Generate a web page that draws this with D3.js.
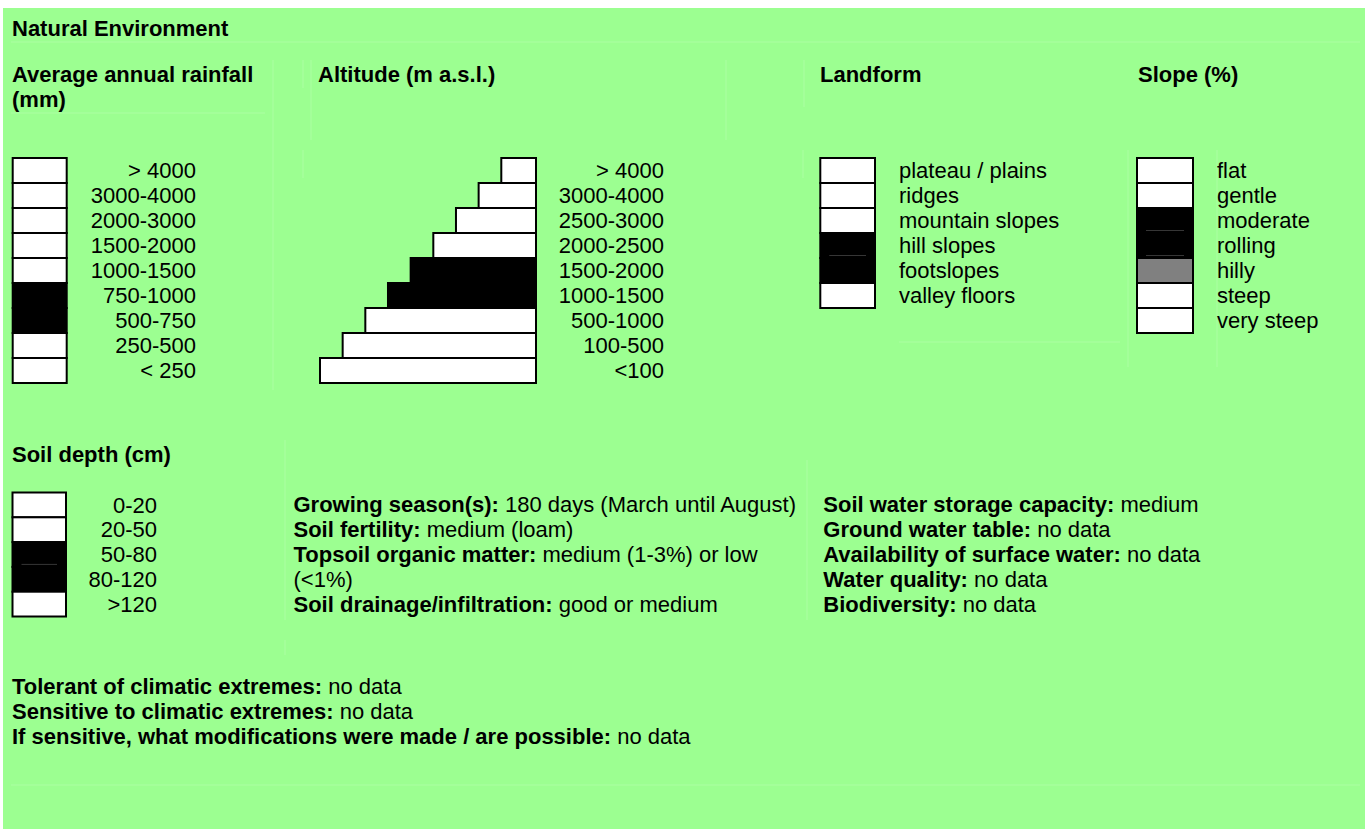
<!DOCTYPE html>
<html><head><meta charset="utf-8">
<script src="https://cdn.jsdelivr.net/npm/d3@7"></script>
<style>
html,body{margin:0;padding:0;background:#fff;}
svg{display:block;font-family:"Liberation Sans",Arial,sans-serif;}
</style></head>
<body><svg id="c" width="1365" height="829"></svg>
<script>
// ---- data ----
const rainfallClasses = ["> 4000","3000-4000","2000-3000","1500-2000","1000-1500","750-1000","500-750","250-500","< 250"];
const rainfallMarks   = [0,0,0,0,0,1,1,0,0];
const altitudeClasses = ["> 4000","3000-4000","2500-3000","2000-2500","1500-2000","1000-1500","500-1000","100-500","<100"];
const altitudeMarks   = [0,0,0,0,1,1,0,0,0];
const landformClasses = ["plateau / plains","ridges","mountain slopes","hill slopes","footslopes","valley floors"];
const landformMarks   = [0,0,0,1,1,0];
const slopeClasses    = ["flat","gentle","moderate","rolling","hilly","steep","very steep"];
const slopeMarks      = [0,0,1,1,0.5,0,0];
const soilDepthClasses = ["0-20","20-50","50-80","80-120",">120"];
const soilDepthMarks   = [0,0,1,1,0];
const soilFacts = [["Growing season(s):"," 180 days (March until August)"],["Soil fertility:"," medium (loam)"],["Topsoil organic matter:"," medium (1-3%) or low"],["","(<1%)"],["Soil drainage/infiltration:"," good or medium"]];
const waterFacts = [["Soil water storage capacity:"," medium"],["Ground water table:"," no data"],["Availability of surface water:"," no data"],["Water quality:"," no data"],["Biodiversity:"," no data"]];
const climateFacts = [["Tolerant of climatic extremes:"," no data"],["Sensitive to climatic extremes:"," no data"],["If sensitive, what modifications were made / are possible:"," no data"]];

// ---- drawing ----
const svg = d3.select("#c");
const BG = "#9cff91", FAINT = "#abffa2", FS = 22;
svg.append("rect").attr("x",3).attr("y",8).attr("width",1362).attr("height",821).attr("fill",BG);

// faint cell borders
const faint = [[11,42,1360,42],[11,113,265,113],[273,60,273,390],[303,60,303,88],[303,150,303,178],[311,60,311,140],[726,60,726,140],[804,60,804,107],[803,150,803,178],[1128,150,1128,367],[1217,150,1217,367],[899,342,1120,342],[285,440,285,620],[807,460,807,620],[285,640,285,655],[11,785,1360,785]];
svg.selectAll("line.faint").data(faint).join("line").attr("class","faint")
  .attr("x1",d=>d[0]).attr("y1",d=>d[1]).attr("x2",d=>d[2]).attr("y2",d=>d[3])
  .attr("stroke",FAINT).attr("stroke-width",1);

const fill = d3.scaleLinear().domain([0,1]).range(["#ffffff","#000000"]);

function txt(x,y,s,opts={}){
  return svg.append("text").attr("x",x).attr("y",y).text(s)
    .attr("font-size",FS).attr("fill","#000")
    .attr("font-weight",opts.bold?"bold":"normal")
    .attr("text-anchor",opts.anchor||"start");
}

txt(12,36,"Natural Environment",{bold:true});
txt(12,82,"Average annual rainfall",{bold:true});
txt(12,107,"(mm)",{bold:true});
txt(318,82,"Altitude (m a.s.l.)",{bold:true});
txt(820,82,"Landform",{bold:true});
txt(1138,82,"Slope (%)",{bold:true});
txt(12,462,"Soil depth (cm)",{bold:true});

function column(classes, marks, top, boxX, boxW, labelX, anchor, rowH, traces){
  const y = d3.scaleBand().domain(classes).range([top, top + rowH*classes.length]);
  const g = svg.append("g");
  g.selectAll("rect").data(classes).join("rect")
    .attr("x",boxX).attr("y",d=>y(d)).attr("width",boxW).attr("height",y.bandwidth())
    .attr("fill",(d,i)=>fill(marks[i])).attr("stroke","#000").attr("stroke-width",2);
  if(traces){
    // faint separator traces visible inside the shaded cells
    g.selectAll("line.trace").data(classes.filter((d,i)=>marks[i]>0 && i>0 && marks[i-1]>0)).join("line")
      .attr("class","trace")
      .attr("x1",boxX+9).attr("x2",boxX+boxW-9)
      .attr("y1",d=>y(d)-2.5).attr("y2",d=>y(d)-2.5)
      .attr("stroke","#444").attr("stroke-width",0.8);
  }
  g.selectAll("text").data(classes).join("text")
    .attr("x",labelX).attr("y",d=>y(d)+y.bandwidth()/2).attr("dy","0.35em")
    .attr("text-anchor",anchor).attr("font-size",FS).text(d=>d);
}

column(rainfallClasses, rainfallMarks, 158, 12.7, 54, 196, "end", 25, false);
column(landformClasses, landformMarks, 158, 820.3, 54.7, 899, "start", 25, true);
column(slopeClasses, slopeMarks, 158, 1137, 56, 1217, "start", 25, true);
column(soilDepthClasses, soilDepthMarks, 492.5, 12.5, 53.5, 157, "end", 24.8, true);

// altitude staircase: bar width grows with rank of level (lowest level widest)
{
  const y = d3.scaleBand().domain(altitudeClasses).range([158, 158+25*altitudeClasses.length]);
  const w = d3.scaleLinear().domain([0, altitudeClasses.length-1]).range([34.7, 216]);
  const right = 536;
  const g = svg.append("g");
  g.selectAll("rect").data(altitudeClasses).join("rect")
    .attr("x",(d,i)=>right - w(i)).attr("y",d=>y(d)).attr("width",(d,i)=>w(i)).attr("height",y.bandwidth())
    .attr("fill",(d,i)=>fill(altitudeMarks[i])).attr("stroke","#000").attr("stroke-width",2);
  g.selectAll("text").data(altitudeClasses).join("text")
    .attr("x",664).attr("y",d=>y(d)+y.bandwidth()/2).attr("dy","0.35em")
    .attr("text-anchor","end").attr("font-size",FS).text(d=>d);
}

function facts(list, x, y0, step){
  list.forEach((f,i)=>{
    const t = svg.append("text").attr("x",x).attr("y",y0+i*step).attr("font-size",FS);
    if(f[0]) t.append("tspan").attr("font-weight","bold").text(f[0]);
    t.append("tspan").attr("xml:space","preserve").style("white-space","pre").text(f[1]);
  });
}
facts(soilFacts, 293.5, 512, 25);
facts(waterFacts, 823.3, 512, 25);
facts(climateFacts, 12, 694, 25);
</script></body></html>
